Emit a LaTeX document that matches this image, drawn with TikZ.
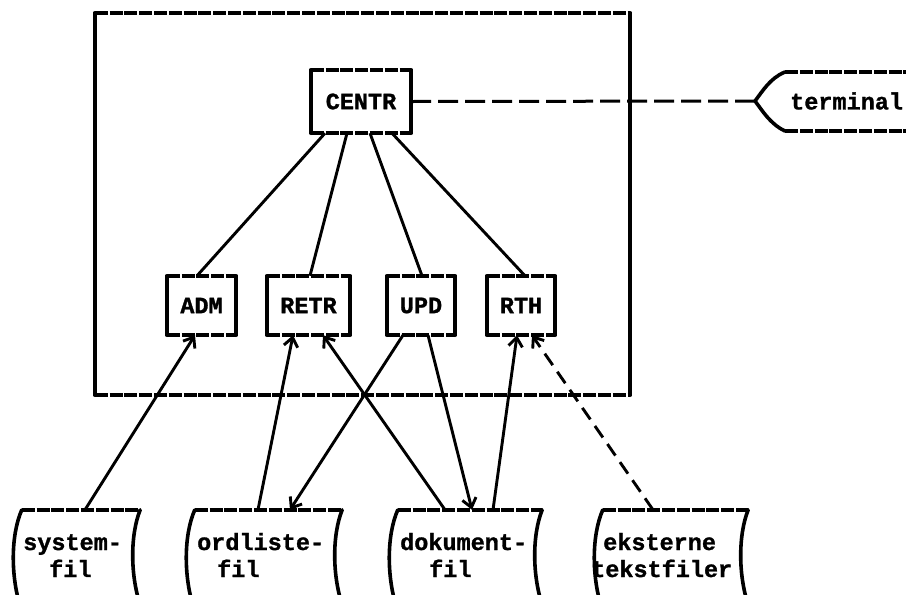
\documentclass[tikz,border=0pt]{standalone}
\usepackage{fontspec}
\setmonofont[BoldFeatures={FakeBold=1.2}]{Liberation Mono}
\usetikzlibrary{arrows.meta,calc}
\begin{document}
\begin{tikzpicture}[x=1pt,y=-1pt,
  every node/.style={font=\ttfamily\bfseries\fontsize{23.5}{28}\selectfont, inner sep=0pt},
  hline/.style={line width=3.6pt, dash pattern=on 13pt off 1.8pt},
  vline/.style={line width=3.6pt, line cap=round},
  wire/.style={line width=2.9pt},
  arr/.style={wire, -{Straight Barb[length=9pt,width=14pt]}},
  link/.style={line width=3pt, dash pattern=on 20pt off 7pt},
  blk/.style={draw=none},
  filebox/.style={draw=none, minimum height=90pt},
  ftext/.style={anchor=base west}
]
\useasboundingbox (0,0) rectangle (906,595);
\clip (0,0) rectangle (906,595);

% box with dashed horizontal edges and solid vertical edges
\newcommand\drawhv[1]{%
  \draw[hline] (#1.north west) -- (#1.north east);
  \draw[hline] (#1.south west) -- (#1.south east);
  \draw[vline] (#1.north west) -- (#1.south west);
  \draw[vline] (#1.north east) -- (#1.south east);}

% system frame
\node[blk, minimum width=535pt, minimum height=382pt] (frame) at (362.5,204) {};
\drawhv{frame}

% modules
\node[blk, minimum width=100pt, minimum height=63pt] (centr) at (361,101.5) {CENTR};
\node[blk, minimum width=69pt, minimum height=59pt] (adm) at (201.5,305.5) {ADM};
\node[blk, minimum width=83pt, minimum height=59pt] (retr) at (308.5,305.5) {RETR};
\node[blk, minimum width=68pt, minimum height=59pt] (upd) at (421,305.5) {UPD};
\node[blk, minimum width=68pt, minimum height=59pt] (rth) at (521,305.5) {RTH};
\foreach \b in {centr,adm,retr,upd,rth} {\drawhv{\b}}

% terminal
\node[anchor=west] (term) at (790,101) {terminal};
\coordinate (termtip) at (755,101);
\draw[hline] (785,72) -- (915,72);
\draw[hline] (785,131) -- (915,131);
\draw[vline] (785,72) .. controls (770,78) and (762,92) .. (termtip)
             .. controls (762,110) and (770,124) .. (785,131);
\draw[link] (centr.east) -- (termtip);

% files
\node[filebox, minimum width=118pt] (sysfil) at (81,555) {};
\node[filebox, minimum width=147pt] (ordfil) at (268.5,555) {};
\node[filebox, minimum width=144pt] (dokfil) at (470,555) {};
\node[filebox, minimum width=145pt] (eksfil) at (675.5,555) {};
\foreach \f in {sysfil,ordfil,dokfil,eksfil} {
  \draw[hline] (\f.north west) -- (\f.north east);
  \draw[vline] (\f.north west) .. controls ($(\f.north west)+(-11,25)$) and ($(\f.north west)+(-11,65)$) .. ($(\f.north west)+(-2,95)$);
  \draw[vline] (\f.north east) .. controls ($(\f.north east)+(-10,25)$) and ($(\f.north east)+(-10,65)$) .. ($(\f.north east)+(0,95)$);
}
\node[ftext] (sysfil-a) at (23,550) {system-};
\node[ftext] (sysfil-b) at (49,577) {fil};
\node[ftext] (ordfil-a) at (197,550) {ordliste-};
\node[ftext] (ordfil-b) at (217,577) {fil};
\node[ftext] (dokfil-a) at (400,550) {dokument-};
\node[ftext] (dokfil-b) at (429,577) {fil};
\node[ftext] (eksfil-a) at (603,550) {eksterne};
\node[ftext] (eksfil-b) at (591,577) {tekstfiler};

% calls from CENTR
\draw[wire] ([xshift=-36pt]centr.south) -- ([xshift=-4.5pt]adm.north);
\draw[wire] ([xshift=-14pt]centr.south) -- ([xshift=1.5pt]retr.north);
\draw[wire] ([xshift=9pt]centr.south) -- ([xshift=1pt]upd.north);
\draw[wire] ([xshift=31pt]centr.south) -- ([xshift=4pt]rth.north);

% data flows
\draw[arr] ([xshift=4pt]sysfil.north) -- ([xshift=-6.5pt]adm.south);
\draw[arr] ([xshift=-10.5pt]ordfil.north) -- ([xshift=-15.5pt]retr.south);
\draw[arr] ([xshift=-25pt]dokfil.north) -- ([xshift=14.5pt]retr.south);
\draw[arr] ([xshift=-18pt]upd.south) -- ([xshift=21.5pt]ordfil.north);
\draw[arr] ([xshift=7pt]upd.south) -- ([xshift=2pt]dokfil.north);
\draw[arr] ([xshift=23pt]dokfil.north) -- ([xshift=-4pt]rth.south);
\draw[arr, dash pattern=on 14pt off 8pt] ([xshift=-22.5pt]eksfil.north) -- ([xshift=11pt]rth.south);
\end{tikzpicture}
\end{document}
